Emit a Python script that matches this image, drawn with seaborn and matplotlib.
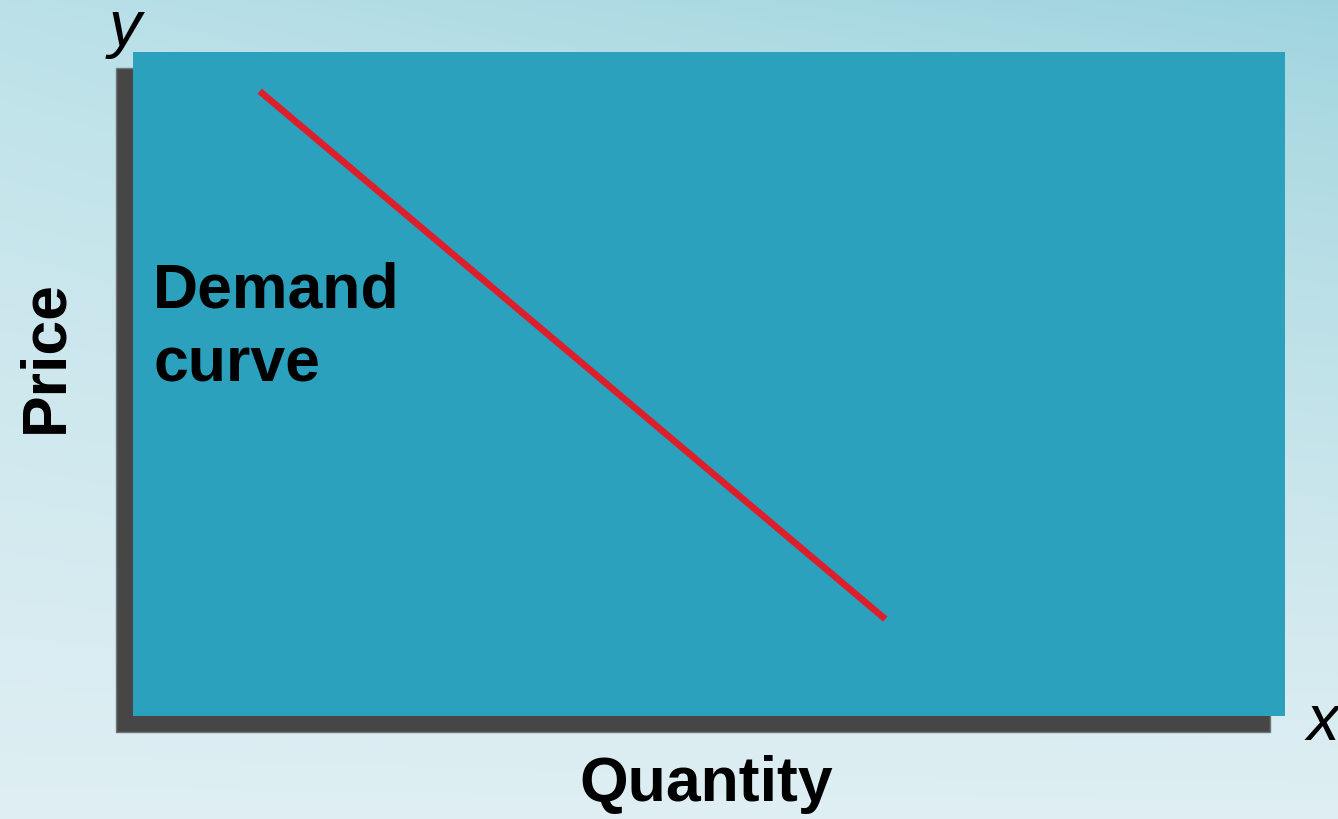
import numpy as np
import matplotlib
matplotlib.use("Agg")
import matplotlib.pyplot as plt
from matplotlib.patches import Rectangle
import seaborn as sns

# Demand curve: quantity demanded falls as price rises
quantity = [1.10, 6.53]
price = [9.41, 1.46]

x_label = "Quantity"
y_label = "Price"
curve_label = ["Demand", "curve"]

sns.set_theme(style="white")
plt.rcParams["font.family"] = ["Liberation Sans", "DejaVu Sans"]

W, H = 1338, 819
fig = plt.figure(figsize=(W / 100, H / 100), dpi=100)


def fx(px):
    return px / W


def fy(py):
    return 1 - py / H


# soft sky-blue backdrop, darker towards the top right
bg = fig.add_axes([0, 0, 1, 1], zorder=0)
gy = np.linspace(0, 1, 300)[:, None]
gx = np.linspace(0, 1, 400)[None, :]
top_l = np.array([0.73, 0.88, 0.91])
top_r = np.array([0.62, 0.83, 0.87])
bot = np.array([0.875, 0.937, 0.953])
top = top_l[None, None, :] * (1 - gx[..., None]) + top_r[None, None, :] * gx[..., None]
t = (gy ** 0.8)[..., None]
img = top * (1 - t) + bot[None, None, :] * t
bg.imshow(np.clip(img, 0, 1), aspect="auto", extent=[0, 1, 0, 1], origin="upper")
bg.set_axis_off()

# drop shadow behind the plotting panel
fig.patches.append(Rectangle((fx(116), fy(732)), fx(1270 - 116), (732 - 68) / H,
                             transform=fig.transFigure, facecolor="#464646",
                             edgecolor="#6f7579", linewidth=1.0, zorder=1))

ax = fig.add_axes([fx(133), fy(716), fx(1285 - 133), (716 - 52) / H], zorder=2)
ax.set_facecolor("#2ba1bd")
sns.lineplot(x=quantity, y=price, ax=ax, color="#dc1f2b", linewidth=4.8,
             solid_capstyle="butt")
ax.set_xlim(0, 10)
ax.set_ylim(0, 10)
ax.set_xticks([])
ax.set_yticks([])
ax.set_xlabel("")
ax.set_ylabel("")
for s in ax.spines.values():
    s.set_visible(False)

bold = dict(fontsize=45, fontweight="bold", color="black")
fig.text(fx(153), fy(307), curve_label[0], ha="left", va="baseline", zorder=3, **bold)
fig.text(fx(153), fy(381), curve_label[1], ha="left", va="baseline", zorder=3, **bold)
fig.text(fx(706), fy(801), x_label, ha="center", va="baseline", zorder=3, **bold)
fig.text(fx(62), fy(357), y_label, ha="center", va="baseline", rotation=90,
         rotation_mode="anchor", zorder=3, **bold)

fig.text(fx(109), fy(46), "y", ha="left", va="baseline", fontsize=47,
         fontstyle="italic", color="black", zorder=3)
fig.text(fx(1307), fy(740), "x", ha="left", va="baseline", fontsize=47,
         fontstyle="italic", color="black", zorder=3)

fig.savefig("out.png", dpi=100)
